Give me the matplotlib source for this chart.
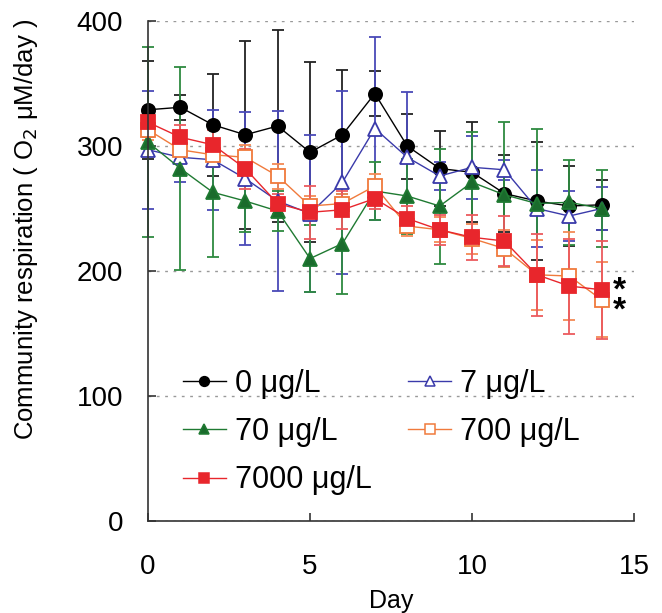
import numpy as np
import matplotlib
matplotlib.use('Agg')
import matplotlib.pyplot as plt
from matplotlib.lines import Line2D

plt.rcParams['font.family'] = ['Liberation Sans', 'DejaVu Sans']

days = list(range(15))

labels = ['0 μg/L', '7 μg/L', '70 μg/L', '700 μg/L', '7000 μg/L']

# means
r_0 = [329, 331, 317, 309, 316, 295, 309, 342, 300, 282, 279, 262, 256, 252, 253]
r_7 = [297, 291, 289, 274, 256, 246, 271, 314, 291, 276, 283, 281, 250, 244, 250]
r_70 = [303, 282, 263, 256, 248, 210, 222, 264, 260, 252, 271, 261, 254, 255, 250]
r_700 = [313, 297, 293, 291, 276, 252, 254, 268, 236, 233, 226, 218, 197, 196, 177]
r_7000 = [319, 307, 301, 282, 254, 247, 249, 258, 242, 233, 227, 224, 197, 188, 185]

# error bars (SD)
sd_0 = [39, 10, 41, 75, 77, 72, 52, 18, 26, 30, 40, 31, 47, 32, 20]
sd_7 = [47, 20, 40, 53, 72, 63, 73, 73, 52, 11, 25, 8, 31, 20, 17]
sd_70 = [76, 81, 52, 25, 16, 27, 40, 23, 30, 46, 40, 58, 60, 34, 31]
sd_700 = [8, 8, 10, 10, 10, 8, 8, 10, 8, 10, 12, 15, 28, 35, 30]
sd_7000 = [12, 10, 12, 16, 8, 21, 15, 8, 10, 12, 18, 20, 33, 38, 39]

means = [r_0, r_7, r_70, r_700, r_7000]
sds = [sd_0, sd_7, sd_70, sd_700, sd_7000]
colors = ['#000000', '#3a3aaa', '#1f7a32', '#f07a3c', '#e8262c']
ecolors = ['#222222', '#4a4ab8', '#2e8a40', '#f38a55', '#ec5a5e']
markers = ['o', '^', '^', 's', 's']
faces = ['#000000', 'white', '#1a6b2c', 'white', '#e8262c']

fig = plt.figure(figsize=(6.62, 6.13), dpi=100)
ax = fig.add_axes([0.2236, 0.150, 0.7342, 0.8157])

handles = []
for m, s, c, ec, mk, fc, lab in zip(means, sds, colors, ecolors, markers, faces, labels):
    ax.errorbar(days, m, yerr=s, color=c, ecolor=ec, lw=1.0, elinewidth=1.3, capsize=4,
                capthick=1.3, marker=mk, markersize=9.5, markerfacecolor=fc,
                markeredgecolor=c, markeredgewidth=1.3, clip_on=False)
    handles.append(Line2D([], [], color=c, lw=1.0, marker=mk, markersize=7,
                          markerfacecolor=fc, markeredgecolor=c, markeredgewidth=1.1,
                          label=lab))

# significance marks
ax.text(14.55, 176, '*\n*', fontsize=24, fontweight='bold', ha='center', va='center',
        linespacing=0.55)

ax.set_xlim(0, 15)
ax.set_ylim(0, 400)
ax.set_xticks([0, 5, 10, 15])
ax.set_yticks([0, 100, 200, 300, 400])
ax.yaxis.grid(True, linestyle=(0, (2, 4)), color='#999999', lw=1)
ax.set_axisbelow(True)
for sp in ['top', 'right']:
    ax.spines[sp].set_visible(False)
for sp in ['left', 'bottom']:
    ax.spines[sp].set_color('#333333')
    ax.spines[sp].set_linewidth(1.2)
ax.tick_params(direction='in', length=6, width=1.2, colors='#333333', labelsize=20,
               labelcolor='black')
ax.tick_params(axis='x', pad=24)
ax.tick_params(axis='y', pad=18)

ax.set_xlabel('Day', fontsize=18)
ax.xaxis.set_label_coords(0.5, -0.135)
fig.text(0.039, 0.625, 'Community respiration ( O$_2$ μM/day )', rotation=90,
         fontsize=18.5, ha='center', va='center')

# row-wise order: 0, 7 / 70, 700 / 7000
order = [0, 2, 4, 1, 3]
ax.legend([handles[i] for i in order], [labels[i] for i in order], ncol=2,
          frameon=False, fontsize=22, loc='upper left', bbox_to_anchor=(0.04, 0.335),
          handlelength=1.4, handletextpad=0.3, columnspacing=1.2, labelspacing=0.6,
          borderpad=0)

plt.savefig('out.png', dpi=100)
